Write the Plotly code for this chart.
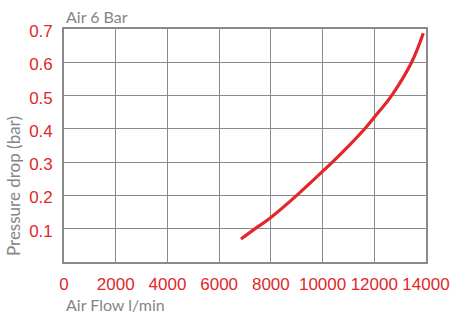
import plotly.graph_objects as go

# Data
flow = [6845, 7300, 8000, 8970, 10000, 10900, 11640, 12000, 12670, 13445, 13895]
pressure = [0.069, 0.095, 0.134, 0.198, 0.272, 0.340, 0.401, 0.435, 0.500, 0.600, 0.687]

x_ticks = [0, 2000, 4000, 6000, 8000, 10000, 12000, 14000]
x_labels = ["0", "2000", "4000", "6000", "8000", "10000", "12000", "14000"]
y_ticks = [0.1, 0.2, 0.3, 0.4, 0.5, 0.6, 0.7]
y_labels = ["0.1", "0.2", "0.3", "0.4", "0.5", "0.6", "0.7"]

RED = "#e2262b"
GRID = "#8a8a8a"
GREY_TXT = "#858585"
TICK_FONT = dict(family="Liberation Sans, Arial, sans-serif", size=17, color=RED)
TITLE_FONT = dict(family="Lato, Open Sans, sans-serif", size=16, color=GREY_TXT)
YTITLE_FONT = dict(family="Lato, Open Sans, sans-serif", size=17, color=GREY_TXT)

fig = go.Figure()
fig.add_trace(go.Scatter(
    x=flow, y=pressure, mode="lines",
    line=dict(color=RED, width=3.2, shape="spline", smoothing=1.0),
    hoverinfo="skip", showlegend=False,
))

fig.update_xaxes(
    range=[0, 14000], tickmode="array", tickvals=x_ticks, ticktext=x_labels,
    showgrid=True, gridcolor=GRID, gridwidth=1.4,
    showline=True, linecolor=GRID, linewidth=1.6, mirror=True,
    zeroline=False, ticks="", tickfont=TICK_FONT, ticklabelstandoff=6,
    fixedrange=True,
)
fig.update_yaxes(
    range=[0, 0.7], tickmode="array", tickvals=y_ticks, ticktext=y_labels,
    showgrid=True, gridcolor=GRID, gridwidth=1.4,
    showline=True, linecolor=GRID, linewidth=1.6, mirror=True,
    zeroline=False, ticks="", tickfont=TICK_FONT, ticklabelstandoff=6,
    ticklabelshift=2, fixedrange=True,
)

fig.add_annotation(text="Air 6 Bar", xref="paper", yref="paper", x=0, y=1,
                   xanchor="left", yanchor="bottom", yshift=1, showarrow=False,
                   font=TITLE_FONT)
fig.add_annotation(text="Air Flow l/min", xref="paper", yref="paper", x=0, y=0,
                   xanchor="left", yanchor="top", yshift=-31, showarrow=False,
                   font=TITLE_FONT)
fig.add_annotation(text="Pressure drop (bar)", xref="paper", yref="paper", x=0, y=0,
                   xanchor="center", yanchor="bottom", xshift=-51, yshift=4,
                   textangle=-90, showarrow=False, font=YTITLE_FONT)

fig.update_layout(
    width=468, height=316,
    margin=dict(l=64, r=42, t=29, b=54),
    paper_bgcolor="white", plot_bgcolor="white",
)

fig.write_html("out.html", config={"displayModeBar": False},
               post_script="document.body.style.margin='0';document.body.style.padding='0';")
